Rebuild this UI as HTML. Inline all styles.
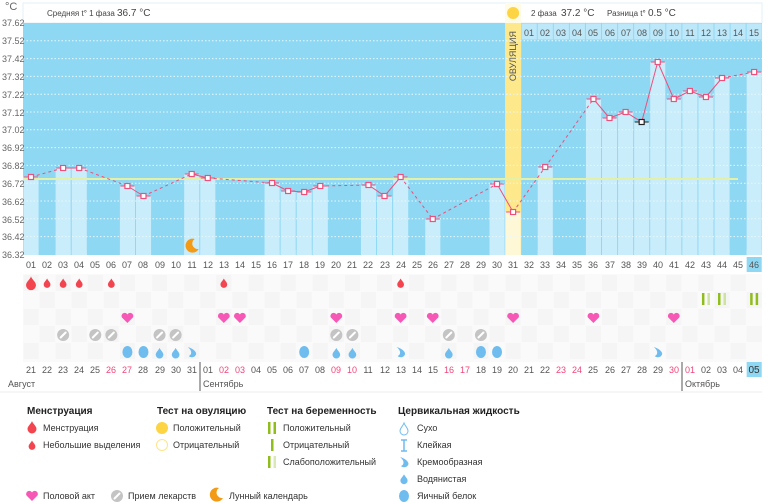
<!DOCTYPE html>
<html><head><meta charset="utf-8">
<style>
html,body{margin:0;padding:0;background:#fff;width:770px;height:503px;overflow:hidden}
svg{display:block;font-family:"Liberation Sans","DejaVu Sans",sans-serif}
.ax{font-size:9px;fill:#666}
.dn{font-size:9px;fill:#555;text-anchor:middle}
.rd{fill:#f0457a}
.lg{font-size:9px;fill:#333}
.lh{font-size:10px;font-weight:bold;fill:#222}
</style></head>
<body>
<svg id="s" width="770" height="503" viewBox="0 0 770 503" xmlns="http://www.w3.org/2000/svg">
<rect x="23" y="3" width="739" height="20" fill="#fff" stroke="#e3f2f9"/>
<rect x="23" y="23" width="739" height="232" fill="#8fd8f3"/>
<rect x="23" y="262" width="739" height="100" fill="#fafafa"/>
<g id="g"></g>
<text x="5" y="10" class="ax" style="font-size:11px">°C</text>
<text x="2" y="26" class="ax">37.62</text><text x="2" y="44" class="ax">37.52</text>
<text x="2" y="62" class="ax">37.42</text><text x="2" y="80" class="ax">37.32</text>
<text x="2" y="98" class="ax">37.22</text><text x="2" y="116" class="ax">37.12</text>
<text x="2" y="133" class="ax">37.02</text><text x="2" y="151" class="ax">36.92</text>
<text x="2" y="169" class="ax">36.82</text><text x="2" y="187" class="ax">36.72</text>
<text x="2" y="205" class="ax">36.62</text><text x="2" y="223" class="ax">36.52</text>
<text x="2" y="240" class="ax">36.42</text><text x="2" y="258" class="ax">36.32</text>
<text x="47" y="16" style="font-size:8px;fill:#444">Средняя t° 1 фаза</text>
<text x="117" y="16" style="font-size:10px;fill:#444">36.7 °C</text>
<text x="531" y="16" style="font-size:8px;fill:#444">2 фаза</text>
<text x="561" y="16" style="font-size:10px;fill:#444">37.2 °C</text>
<text x="607" y="16" style="font-size:8px;fill:#444">Разница t°</text>
<text x="648" y="16" style="font-size:10px;fill:#444">0.5 °C</text>
<text transform="translate(516,31) rotate(-90)" text-anchor="end" style="font-size:9px;fill:#555">ОВУЛЯЦИЯ</text>
<g>
<text x="529" y="36" class="dn">01</text><text x="545" y="36" class="dn">02</text><text x="561" y="36" class="dn">03</text><text x="577" y="36" class="dn">04</text><text x="593" y="36" class="dn">05</text><text x="610" y="36" class="dn">06</text><text x="626" y="36" class="dn">07</text><text x="642" y="36" class="dn">08</text><text x="658" y="36" class="dn">09</text><text x="674" y="36" class="dn">10</text><text x="690" y="36" class="dn">11</text><text x="706" y="36" class="dn">12</text><text x="722" y="36" class="dn">13</text><text x="738" y="36" class="dn">14</text><text x="754" y="36" class="dn">15</text>
</g>
<g>
<text x="31" y="268" class="dn">01</text><text x="47" y="268" class="dn">02</text><text x="63" y="268" class="dn">03</text><text x="79" y="268" class="dn">04</text><text x="95" y="268" class="dn">05</text><text x="111" y="268" class="dn">06</text><text x="127" y="268" class="dn">07</text><text x="143" y="268" class="dn">08</text><text x="160" y="268" class="dn">09</text><text x="176" y="268" class="dn">10</text><text x="192" y="268" class="dn">11</text><text x="208" y="268" class="dn">12</text><text x="224" y="268" class="dn">13</text><text x="240" y="268" class="dn">14</text><text x="256" y="268" class="dn">15</text><text x="272" y="268" class="dn">16</text><text x="288" y="268" class="dn">17</text><text x="304" y="268" class="dn">18</text><text x="320" y="268" class="dn">19</text><text x="336" y="268" class="dn">20</text><text x="352" y="268" class="dn">21</text><text x="368" y="268" class="dn">22</text><text x="385" y="268" class="dn">23</text><text x="401" y="268" class="dn">24</text><text x="417" y="268" class="dn">25</text><text x="433" y="268" class="dn">26</text><text x="449" y="268" class="dn">27</text><text x="465" y="268" class="dn">28</text><text x="481" y="268" class="dn">29</text><text x="497" y="268" class="dn">30</text><text x="513" y="268" class="dn">31</text><text x="529" y="268" class="dn">32</text><text x="545" y="268" class="dn">33</text><text x="561" y="268" class="dn">34</text><text x="577" y="268" class="dn">35</text><text x="593" y="268" class="dn">36</text><text x="610" y="268" class="dn">37</text><text x="626" y="268" class="dn">38</text><text x="642" y="268" class="dn">39</text><text x="658" y="268" class="dn">40</text><text x="674" y="268" class="dn">41</text><text x="690" y="268" class="dn">42</text><text x="706" y="268" class="dn">43</text><text x="722" y="268" class="dn">44</text><text x="738" y="268" class="dn">45</text><text x="754" y="268" class="dn">46</text>
</g>
<g>
<text x="31" y="373" class="dn">21</text><text x="47" y="373" class="dn">22</text><text x="63" y="373" class="dn">23</text><text x="79" y="373" class="dn">24</text><text x="95" y="373" class="dn">25</text><text x="111" y="373" class="dn rd">26</text><text x="127" y="373" class="dn rd">27</text><text x="143" y="373" class="dn">28</text><text x="160" y="373" class="dn">29</text><text x="176" y="373" class="dn">30</text><text x="192" y="373" class="dn">31</text><text x="208" y="373" class="dn">01</text><text x="224" y="373" class="dn rd">02</text><text x="240" y="373" class="dn rd">03</text><text x="256" y="373" class="dn">04</text><text x="272" y="373" class="dn">05</text><text x="288" y="373" class="dn">06</text><text x="304" y="373" class="dn">07</text><text x="320" y="373" class="dn">08</text><text x="336" y="373" class="dn rd">09</text><text x="352" y="373" class="dn rd">10</text><text x="368" y="373" class="dn">11</text><text x="385" y="373" class="dn">12</text><text x="401" y="373" class="dn">13</text><text x="417" y="373" class="dn">14</text><text x="433" y="373" class="dn">15</text><text x="449" y="373" class="dn rd">16</text><text x="465" y="373" class="dn rd">17</text><text x="481" y="373" class="dn">18</text><text x="497" y="373" class="dn">19</text><text x="513" y="373" class="dn">20</text><text x="529" y="373" class="dn">21</text><text x="545" y="373" class="dn">22</text><text x="561" y="373" class="dn rd">23</text><text x="577" y="373" class="dn rd">24</text><text x="593" y="373" class="dn">25</text><text x="610" y="373" class="dn">26</text><text x="626" y="373" class="dn">27</text><text x="642" y="373" class="dn">28</text><text x="658" y="373" class="dn">29</text><text x="674" y="373" class="dn rd">30</text><text x="690" y="373" class="dn rd">01</text><text x="706" y="373" class="dn">02</text><text x="722" y="373" class="dn">03</text><text x="738" y="373" class="dn">04</text><text x="754" y="373" class="dn" style="font-size:10px;fill:#333">05</text>
</g>
<text x="8" y="387" style="font-size:9px;fill:#555">Август</text>
<text x="203" y="387" style="font-size:9px;fill:#555">Сентябрь</text>
<text x="685" y="387" style="font-size:9px;fill:#555">Октябрь</text>

<text x="27" y="414" class="lh">Менструация</text>
<text x="43" y="431" class="lg">Менструация</text>
<text x="43" y="448" class="lg">Небольшие выделения</text>
<text x="157" y="414" class="lh">Тест на овуляцию</text>
<text x="173" y="431" class="lg">Положительный</text>
<text x="173" y="448" class="lg">Отрицательный</text>
<text x="267" y="414" class="lh">Тест на беременность</text>
<text x="283" y="431" class="lg">Положительный</text>
<text x="283" y="448" class="lg">Отрицательный</text>
<text x="283" y="465" class="lg">Слабоположительный</text>
<text x="398" y="414" class="lh">Цервикальная жидкость</text>
<text x="417" y="431" class="lg">Сухо</text>
<text x="417" y="448" class="lg">Клейкая</text>
<text x="417" y="465" class="lg">Кремообразная</text>
<text x="417" y="482" class="lg">Водянистая</text>
<text x="417" y="499" class="lg">Яичный белок</text>
<text x="43" y="499" class="lg">Половой акт</text>
<text x="128" y="499" class="lg">Прием лекарств</text>
<text x="229" y="499" class="lg">Лунный календарь</text>
<g id="top"></g>
</svg>
<script>
(function(){
var NS="http://www.w3.org/2000/svg",g=document.getElementById('g'),tp=document.getElementById('top');
function el(n,a,p){var e=document.createElementNS(NS,n);for(var k in a)e.setAttribute(k,a[k]);(p||g).appendChild(e);return e;}
var W=16.07;function L(i){return 23+W*(i-1);}function C(i){return 31+W*(i-1);}
for(var i=1;i<=46;i++){for(var r=0;r<5;r++){el('rect',{x:L(i)+0.5,y:275+r*17,width:W-1,height:16,fill:(i+r)%2?'#f5f5f5':'#fafafa'});}}
el('rect',{x:23,y:256,width:739,height:18,fill:'#fff'});
el('rect',{x:23,y:362,width:739,height:15,fill:'#fff'});
var T={1:177,3:168,4:168,7:186,8:196,11:174,12:178,16:183,17:191,18:192,19:186,22:185,23:196,24:177,26:219,30:184,31:212,33:167,36:99,37:118,38:112,39:122,40:62,41:99,42:91,43:97,44:78,46:72};
el('rect',{x:L(31),y:3,width:W,height:20,fill:'#fffbe6'});
el('rect',{x:L(31),y:23,width:W,height:232,fill:'#fde98c'});
for(var d in T){d=+d;el('rect',{x:L(d)+0.5,y:T[d],width:W-1,height:255-T[d],fill:d==31?'#fff8d6':'#c9edfb'});}
for(var i=1;i<=46;i++){el('rect',{x:L(i)+0.5,y:250,width:W-1,height:5,fill:T[i]?(i==31?'#fff8d6':'#c9edfb'):'#8fd8f3'});}
for(var i=32;i<=46;i++){el('rect',{x:L(i)+0.5,y:23.5,width:W-1,height:16,fill:'#bde8f9'});}
for(var k=1;k<13;k++){var y=23+17.8*k;el('line',{x1:23,x2:762,y1:y,y2:y,stroke:'#e6f7fd','stroke-width':1,'stroke-dasharray':'1.5,2'});}
el('line',{x1:23,x2:738,y1:179,y2:179,stroke:'#e3f0a8','stroke-width':2});
var ks=Object.keys(T).map(Number).sort(function(a,b){return a-b});
for(var j=0;j<ks.length-1;j++){var a=ks[j],b=ks[j+1];el('line',{x1:C(a),y1:T[a],x2:C(b),y2:T[b],stroke:'#ee4f7c','stroke-width':1,'stroke-dasharray':b-a>1?'3,3':''});}
for(var j=0;j<ks.length;j++){var d=ks[j],col=d==39?'#222':'#ee4f7c';el('line',{x1:L(d)+1,x2:L(d)+W-1,y1:T[d],y2:T[d],stroke:col,'stroke-width':1});el('rect',{x:C(d)-2.5,y:T[d]-2.5,width:5,height:5,fill:'#fff',stroke:col,'stroke-width':1.2});}
el('circle',{cx:C(31),cy:13,r:6,fill:'#fdd443'});
el('path',{d:'M'+(C(11)+3)+' 239 a7 7 0 1 0 4 10 a5.5 5.5 0 0 1 -4 -10z',fill:'#f39a16'});
el('rect',{x:L(46)+0.5,y:257,width:W-1,height:15,fill:'#8fd8f3'});
el('rect',{x:L(46)+0.5,y:362,width:W-1,height:15,fill:'#8fd8f3'});
document.querySelectorAll('text').forEach(function(t){if(t.textContent=='46'||t.textContent=='05'&&t.getAttribute('y')=='373'&&t.getAttribute('x')=='754'){tp.appendChild(t);}});
el('line',{x1:200,x2:200,y1:362,y2:391,stroke:'#555'});
el('line',{x1:682,x2:682,y1:362,y2:391,stroke:'#555'});
el('line',{x1:0,x2:762,y1:392,y2:392,stroke:'#eee'});
function drop(x,y,s,c){el('path',{d:'M'+x+' '+(y-6*s)+' C'+(x+1)+' '+(y-3*s)+' '+(x+4.5*s)+' '+(y-1*s)+' '+(x+4.5*s)+' '+(y+2*s)+' A'+4.5*s+' '+4.5*s+' 0 0 1 '+(x-4.5*s)+' '+(y+2*s)+' C'+(x-4.5*s)+' '+(y-1*s)+' '+(x-1)+' '+(y-3*s)+' '+x+' '+(y-6*s)+'z',fill:c});}
[1,2,3,4,6,13,24].forEach(function(d){drop(C(d),283,d==1?1.1:0.75,'#f2454f');});
function heart(x,y){el('path',{d:'M'+x+' '+(y+5)+' L'+(x-5.5)+' '+(y-0.5)+' A3 3 0 0 1 '+x+' '+(y-3.5)+' A3 3 0 0 1 '+(x+5.5)+' '+(y-0.5)+'z',fill:'#f659b5'});}
[7,13,14,20,24,26,31,36,41].forEach(function(d){heart(C(d),318);});
function pill(x,y){el('circle',{cx:x,cy:y,r:6,fill:'#c4c4c4'});el('line',{x1:x-2.5,y1:y+2.5,x2:x+2.5,y2:y-2.5,stroke:'#fff','stroke-width':2,'stroke-linecap':'round'});}
[3,5,6,9,10,20,21,27,29].forEach(function(d){pill(C(d),335);});
function egg(x,y){el('ellipse',{cx:x,cy:y,rx:5,ry:6,fill:'#6fbcef'});}
function cream(x,y){el('path',{d:'M'+(x-4)+' '+(y-5)+' C'+(x)+' '+(y-4)+' '+(x+4.5)+' '+(y-1)+' '+(x+4.5)+' '+(y+2)+' A4.5 4.5 0 0 1 '+(x-3)+' '+(y+4)+' C'+(x)+' '+(y+3)+' '+(x+1)+' '+(y-1)+' '+(x-4)+' '+(y-5)+'z',fill:'#6fbcef'});}
[7,8,18,29,30].forEach(function(d){egg(C(d),352);});
[9,10,20,21,27].forEach(function(d){drop(C(d),353,0.85,'#6fbcef');});
[11,24,40].forEach(function(d){cream(C(d),352);});
function ptest(x,y,a,b){el('rect',{x:x-4,y:y-6,width:2.5,height:12,fill:a});el('rect',{x:x+1.5,y:y-6,width:2.5,height:12,fill:b});}
ptest(C(43),299,'#8fbd1b','#cfe3a0');ptest(C(44),299,'#8fbd1b','#cfe3a0');ptest(C(46),299,'#8fbd1b','#8fbd1b');
drop(32,427,1,'#f2454f');drop(32,445,0.75,'#f2454f');
el('circle',{cx:162,cy:428,r:6,fill:'#fdd443'});el('circle',{cx:162,cy:445,r:5.5,fill:'#fff',stroke:'#fde58a','stroke-width':1});
ptest(272,428,'#8fbd1b','#8fbd1b');el('rect',{x:271,y:439,width:2.5,height:12,fill:'#8fbd1b'});ptest(272,462,'#8fbd1b','#d8e9b5');
el('path',{d:'M404 423 C405 426 408 428 408 431 A4 4 0 0 1 400 431 C400 428 403 426 404 423z',fill:'none',stroke:'#6fbcef'});
el('path',{d:'M401 440 H407 M401 451 H407 M404 440 V451',stroke:'#6fbcef','stroke-width':1.5,fill:'none'});
cream(404,462);drop(404,479,0.8,'#6fbcef');egg(404,496);
heart(32,496);pill(117,496);
el('path',{d:'M219 488 a7 7 0 1 0 4 10 a5.5 5.5 0 0 1 -4 -10z',fill:'#f39a16'});
})();
</script>
</body></html>
